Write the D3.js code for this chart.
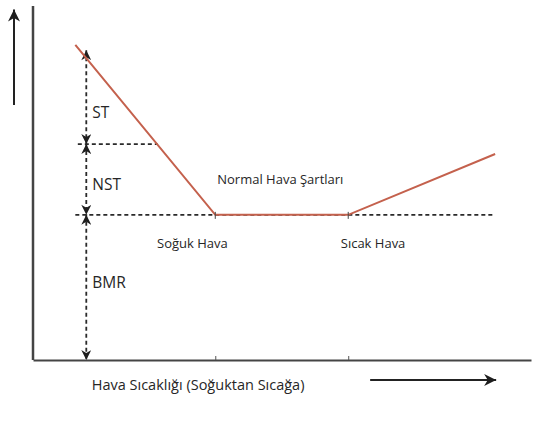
<!DOCTYPE html>
<meta charset="utf-8">
<script src="https://cdn.jsdelivr.net/npm/d3@7"></script>
<style>
body { margin: 0; background: #fff; }
text { font-family: "Open Sans", sans-serif; fill: #262626; }
.dash { fill: none; stroke: #2a2a2a; stroke-width: 1.8px; stroke-dasharray: 4,3; }
</style>
<body>
<script>

// curve of energy use against air temperature (abstract units 0..10)
var curveX = [0.85, 3.66, 6.33, 9.28];
var curveY = [8.9, 4.1, 4.1, 5.82];

// levels on the left guide
var guideX = 1.07;
var levels = [8.75, 6.1, 4.1, 0];   // top of ST, ST/NST, NST/BMR, bottom
var levelNames = ["ST", "NST", "BMR"];
var levelLabelY = [7.0, 4.96, 2.18];

var zoneTicks = [3.66, 6.33];
var zoneNames = ["Soğuk Hava", "Sıcak Hava"];
var zoneLabelX = [2.49, 6.18];
var middleName = "Normal Hava Şartları";
var xTitle = "Hava Sıcaklığı (Soğuktan Sıcağa)";

var width = 542, height = 423;

var x = d3.scaleLinear().domain([0, 10]).range([33, 531]);
var y = d3.scaleLinear().domain([0, 10]).range([360, 6]);

var svg = d3.select("body").append("svg")
    .attr("width", width)
    .attr("height", height);

var defs = svg.append("defs");
defs.append("marker")
    .attr("id", "head")
    .attr("viewBox", "0 -5 10 10")
    .attr("refX", 10)
    .attr("refY", 0)
    .attr("markerWidth", 11)
    .attr("markerHeight", 10)
    .attr("markerUnits", "userSpaceOnUse")
    .attr("orient", "auto-start-reverse")
  .append("path")
    .attr("d", "M0,-5L10,0L0,5L3,0Z")
    .attr("fill", "#1e1e1e");

defs.append("marker")
    .attr("id", "big")
    .attr("viewBox", "0 -5 10 10")
    .attr("refX", 10)
    .attr("refY", 0)
    .attr("markerWidth", 14)
    .attr("markerHeight", 12)
    .attr("markerUnits", "userSpaceOnUse")
    .attr("orient", "auto")
  .append("path")
    .attr("d", "M0,-5L10,0L0,5L3,0Z")
    .attr("fill", "#1e1e1e");

// y axis line
svg.append("line")
    .attr("x1", x(0)).attr("x2", x(0))
    .attr("y1", y(10)).attr("y2", y(0))
    .attr("stroke", "#444")
    .attr("stroke-width", 2.5);

// x axis with the two zone ticks
svg.append("g")
    .attr("transform", "translate(0," + y(0) + ")")
    .call(d3.axisBottom(x)
        .tickValues(zoneTicks)
        .tickSizeInner(-4)
        .tickSizeOuter(0)
        .tickFormat(""))
    .call(function(g) {
      g.select(".domain").attr("stroke", "#444").attr("stroke-width", 2);
      g.selectAll(".tick line").attr("stroke", "#555");
    });

// direction arrows
svg.append("line")
    .attr("x1", 14).attr("x2", 14)
    .attr("y1", y(7.2)).attr("y2", y(9.9))
    .attr("stroke", "#222")
    .attr("stroke-width", 2)
    .attr("marker-end", "url(#big)");

svg.append("line")
    .attr("x1", x(6.77)).attr("x2", x(9.3))
    .attr("y1", 380).attr("y2", 380)
    .attr("stroke", "#222")
    .attr("stroke-width", 2)
    .attr("marker-end", "url(#big)");

// horizontal dashed guides
svg.append("line")
    .attr("class", "dash")
    .attr("x1", x(0.9)).attr("x2", x(2.5))
    .attr("y1", y(levels[1])).attr("y2", y(levels[1]));

svg.append("line")
    .attr("class", "dash")
    .attr("x1", x(0.85)).attr("x2", x(curveX[3]))
    .attr("y1", y(levels[2])).attr("y2", y(levels[2]));

// vertical dashed arrows between levels
for (var i = 0; i < 3; i++) {
  svg.append("line")
      .attr("class", "dash")
      .attr("x1", x(guideX)).attr("x2", x(guideX))
      .attr("y1", y(levels[i])).attr("y2", y(levels[i + 1]))
      .attr("marker-start", "url(#head)")
      .attr("marker-end", "url(#head)");
}

// level names
levelNames.forEach(function(n, i) {
  svg.append("text")
      .attr("x", x(guideX) + 6)
      .attr("y", y(levelLabelY[i]))
      .attr("dy", "0.35em")
      .style("font-size", "15.5px")
      .text(n);
});

// curve
svg.append("path")
    .datum(d3.zip(curveX, curveY))
    .attr("d", d3.line().x(function(d) { return x(d[0]); }).y(function(d) { return y(d[1]); }))
    .attr("fill", "none")
    .attr("stroke", "#c4614d")
    .attr("stroke-width", 2);

// small ticks where the curve turns
zoneTicks.forEach(function(t) {
  svg.append("line")
      .attr("x1", x(t)).attr("x2", x(t))
      .attr("y1", y(curveY[1]) - 3).attr("y2", y(curveY[1]) + 4)
      .attr("stroke", "#444")
      .attr("stroke-width", 1);
});

// zone labels
svg.append("text")
    .attr("x", x(3.7))
    .attr("y", 184)
    .style("font-size", "13px")
    .text(middleName);

zoneNames.forEach(function(n, i) {
  svg.append("text")
      .attr("x", x(zoneLabelX[i]))
      .attr("y", 248)
      .style("font-size", "13px")
      .text(n);
});

svg.append("text")
    .attr("x", x(1.18))
    .attr("y", 390)
    .style("font-size", "14.5px")
    .text(xTitle);

</script>
</body>
</html>
